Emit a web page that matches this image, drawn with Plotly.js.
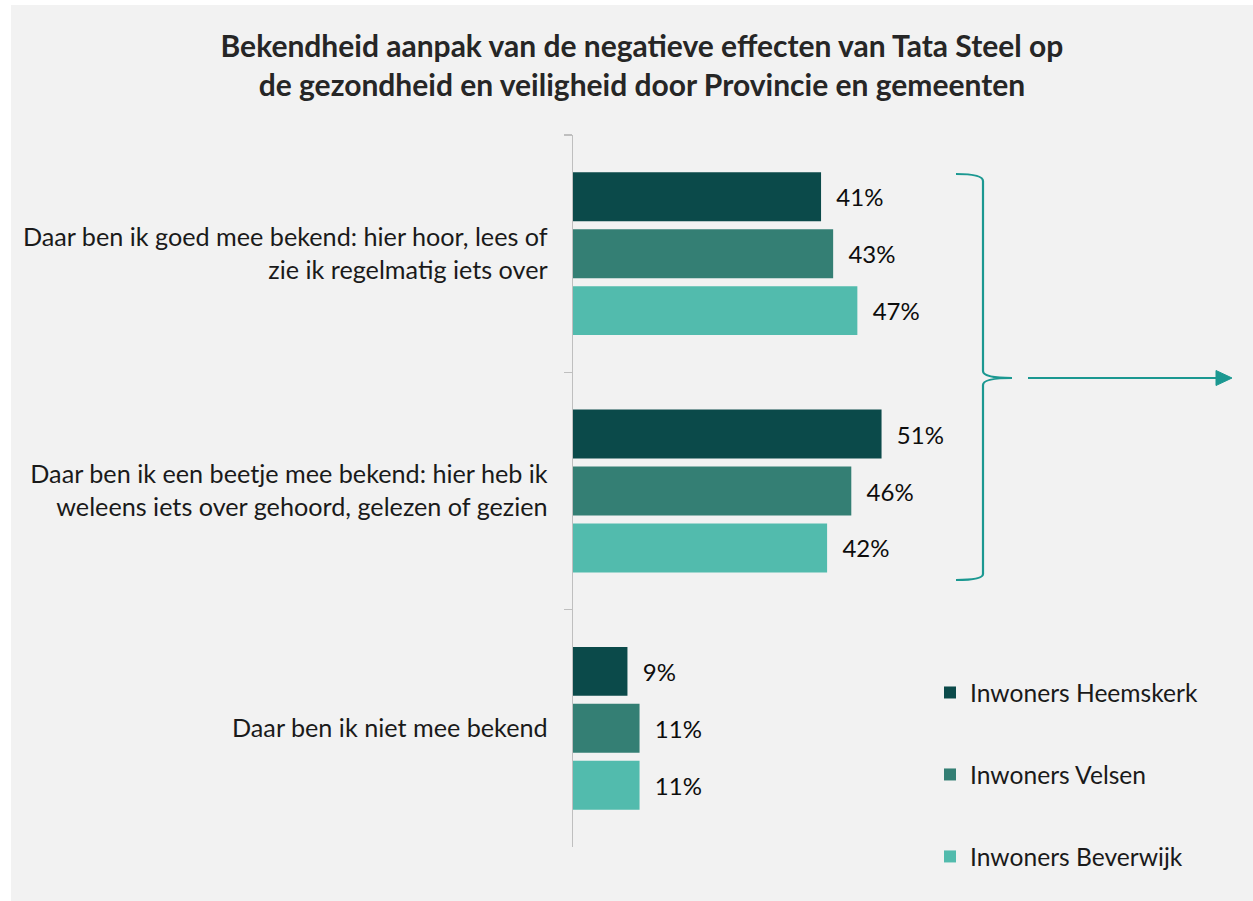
<!DOCTYPE html>
<html>
<head>
<meta charset="utf-8">
<script src="https://cdn.plot.ly/plotly-3.0.1.min.js"></script>
<style>
  html, body { margin: 0; padding: 0; background: #ffffff; width: 1253px; height: 901px; overflow: hidden; }
  #chart { position: absolute; left: 11px; top: 5px; width: 1242px; height: 896px; }
</style>
</head>
<body>
<div id="chart"></div>
<script>
// ---- data ----
const categories = [
  "Daar ben ik goed mee bekend: hier hoor, lees of<br>zie ik regelmatig iets over",
  "Daar ben ik een beetje mee bekend: hier heb ik<br>weleens iets over gehoord, gelezen of gezien",
  "Daar ben ik niet mee bekend"
];
const seriesNames = ["Inwoners Heemskerk", "Inwoners Velsen", "Inwoners Beverwijk"];
const heemskerk = [41, 51, 9];
const velsen = [43, 46, 11];
const beverwijk = [47, 42, 11];
const seriesColors = ["#0b4a4a", "#347f74", "#52bbad"];
const titleText = "Bekendheid aanpak van de negatieve effecten van Tata Steel op<br>de gezondheid en veiligheid door Provincie en gemeenten";

// ---- layout geometry (div coords) ----
const W = 1242, H = 896;
const M = { l: 562, r: 75, t: 130, b: 54 };
const plotW = W - M.l - M.r, plotH = H - M.t - M.b;
// convert absolute page pixels to paper fractions
function px(xAbs) { return (xAbs - 11 - M.l) / plotW; }
function py(yAbs) { return (H - M.b - (yAbs - 5)) / plotH; }

const FONT = "Lato, 'Noto Sans', sans-serif";
const NB = "\u00a0\u00a0";

const allSeries = [heemskerk, velsen, beverwijk];
const traces = allSeries.map((vals, i) => ({
  type: "bar",
  orientation: "h",
  name: seriesNames[i],
  legendgroup: "g" + i,
  x: vals,
  y: categories,
  marker: { color: seriesColors[i] },
  text: vals.map(v => v + "%"),
  texttemplate: NB + "%{text}",
  textposition: "outside",
  constraintext: "none",
  cliponaxis: false,
  textfont: { family: FONT, size: 24, color: "#0d0d0d" },
  hoverinfo: "skip"
}));

const teal = "#1b9891";
const bracePath =
  "M" + px(956) + "," + py(174) +
  " Q" + px(983) + "," + py(174) + " " + px(983) + "," + py(181) +
  " L" + px(983) + "," + py(371) +
  " Q" + px(983) + "," + py(378) + " " + px(1012) + "," + py(378) +
  " Q" + px(983) + "," + py(378) + " " + px(983) + "," + py(385) +
  " L" + px(983) + "," + py(574) +
  " Q" + px(983) + "," + py(580) + " " + px(956) + "," + py(580);
const headPath =
  "M" + px(1216) + "," + py(370.5) +
  " L" + px(1232) + "," + py(378) +
  " L" + px(1216) + "," + py(385.5) + " Z";

const layout = {
  width: W, height: H,
  paper_bgcolor: "#f2f2f2",
  plot_bgcolor: "rgba(0,0,0,0)",
  margin: M,
  font: { family: FONT, color: "#1a1a1a" },
  title: {
    text: titleText,
    font: { family: FONT, size: 30, weight: "bold", color: "#262626" },
    x: 0.508, xref: "container", xanchor: "center",
    y: 1 - 52 / H, yref: "container", yanchor: "top"
  },
  barmode: "group",
  bargap: 0.28,
  bargroupgap: 0.14,
  xaxis: {
    range: [0, 100],
    visible: false,
    showgrid: false,
    zeroline: false,
    fixedrange: true
  },
  yaxis: {
    type: "category",
    autorange: "reversed",
    showline: true,
    linecolor: "#bfbfbf",
    linewidth: 1.3,
    ticks: "outside",
    ticklen: 8,
    tickcolor: "#bfbfbf",
    tickwidth: 1.3,
    tickson: "boundaries",
    ticklabelstandoff: 19,
    showgrid: false,
    zeroline: false,
    tickfont: { family: FONT, size: 25.2, color: "#1a1a1a" },
    fixedrange: true
  },
  showlegend: true,
  legend: {
    x: px(930), xanchor: "left",
    y: py(670), yanchor: "top",
    bgcolor: "rgba(0,0,0,0)",
    font: { family: FONT, size: 24.6, color: "#1a1a1a" },
    tracegroupgap: 47,
    traceorder: "grouped"
  },
  shapes: [
    { type: "path", xref: "paper", yref: "paper", path: bracePath,
      line: { color: teal, width: 2.2 }, fillcolor: "rgba(0,0,0,0)" },
    { type: "line", xref: "paper", yref: "paper",
      x0: px(1028), y0: py(378), x1: px(1218), y1: py(378),
      line: { color: teal, width: 2.2 } },
    { type: "path", xref: "paper", yref: "paper", path: headPath,
      line: { color: teal, width: 1 }, fillcolor: teal }
  ]
};

Plotly.newPlot("chart", traces, layout, { staticPlot: true, displayModeBar: false });
</script>
</body>
</html>
